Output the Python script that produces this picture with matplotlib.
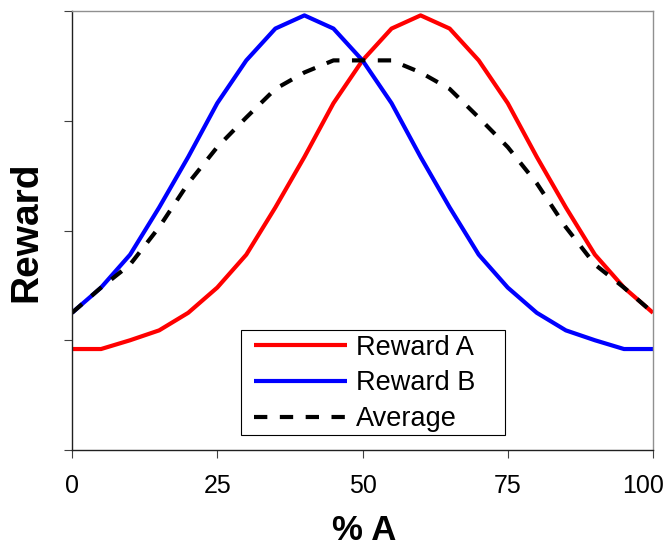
import matplotlib.pyplot as plt
from matplotlib.patches import Rectangle
from matplotlib.transforms import ScaledTranslation

# доля A, %
pct_a = [0, 5, 10, 15, 20, 25, 30, 35, 40, 45, 50,
         55, 60, 65, 70, 75, 80, 85, 90, 95, 100]

reward_a = [0.92, 0.92, 1.00, 1.09, 1.25, 1.48, 1.78, 2.21, 2.67, 3.16, 3.55,
            3.84, 3.96, 3.84, 3.55, 3.16, 2.67, 2.21, 1.78, 1.48, 1.25]
reward_b = [1.25, 1.48, 1.78, 2.21, 2.67, 3.16, 3.55, 3.84, 3.96, 3.84, 3.55,
            3.16, 2.67, 2.21, 1.78, 1.48, 1.25, 1.09, 1.00, 0.92, 0.92]
average = [1.25, 1.48, 1.69, 2.03, 2.43, 2.76, 3.03, 3.29, 3.44, 3.55, 3.55,
           3.55, 3.44, 3.29, 3.03, 2.76, 2.43, 2.03, 1.69, 1.48, 1.25]

x_ticks = [0, 25, 50, 75, 100]
y_ticks = [0, 1, 2, 3, 4]

plt.rcParams['font.family'] = ['Liberation Sans', 'DejaVu Sans']

fig = plt.figure(figsize=(6.72, 5.56), dpi=100)
ax = fig.add_axes([72 / 672, 1 - 450 / 556, 581 / 672, 439 / 556])

ax.plot(pct_a, reward_a, color='#ff0000', lw=3, label='Reward A', solid_capstyle='butt')
ax.plot(pct_a, reward_b, color='#0000ff', lw=3, label='Reward B', solid_capstyle='butt')
ax.plot(pct_a, average, color='black', lw=3, ls=(0, (3.2, 3.0)), label='Average', dash_capstyle='butt')

ax.set_xlim(0, 100)
ax.set_ylim(0, 4)
ax.set_xticks(x_ticks)
ax.set_yticks(y_ticks)
ax.set_yticklabels([])
ax.tick_params(axis='x', labelsize=18, length=6, width=0.8, pad=11, color='#404040')
ax.tick_params(axis='y', length=6, width=0.8, color='#404040')

# подпись 100 сдвигаем влево, как в Excel
last = ax.get_xticklabels()[-1]
last.set_transform(last.get_transform() + ScaledTranslation(-10 / 100, 0, fig.dpi_scale_trans))

# рамка: оси тёмные, верх/право серые
ax.spines['left'].set_color('#202020')
ax.spines['bottom'].set_color('#202020')
ax.spines['top'].set_color('#909090')
ax.spines['right'].set_color('#909090')
for s in ax.spines.values():
    s.set_linewidth(1.0)

fig.text(26 / 672, 1 - 232 / 556, 'Reward', rotation=90, ha='center', va='center',
         fontsize=28, fontweight='bold')
fig.text(364 / 672, 1 - 531 / 556, '% A', ha='center', va='center',
         fontsize=25, fontweight='bold')

# рамка легенды отдельно - в Excel справа большой отступ
box = Rectangle((0.2909, 0.0342), 0.4544, 0.2392, transform=ax.transAxes,
                facecolor='white', edgecolor='black', lw=0.8, zorder=4)
ax.add_patch(box)

leg = ax.legend(loc='lower left', bbox_to_anchor=(0.3133, 0.041),
                fontsize=19.5, handlelength=3.44, handletextpad=0.33,
                labelspacing=0.36, borderpad=0, borderaxespad=0, frameon=False)
leg.set_zorder(5)

plt.savefig('out.png', dpi=100)
